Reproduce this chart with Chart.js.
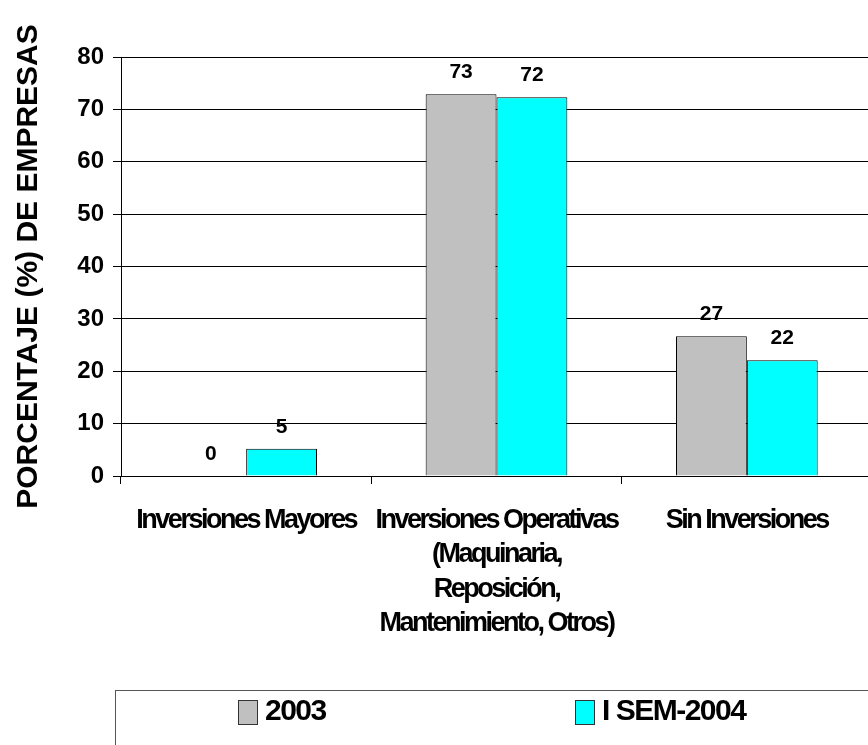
<!DOCTYPE html>
<html>
<head>
<meta charset="utf-8">
<script src="https://cdn.jsdelivr.net/npm/chart.js@4"></script>
<style>
  html, body { margin: 0; padding: 0; background: #fff; overflow: hidden; }
  #wrap { width: 880px; height: 745px; position: relative; }
</style>
</head>
<body>
<div id="wrap"><canvas id="chart"></canvas></div>
<script>
(function () {
    const categories = [
        ['Inversiones Mayores'],
        ['Inversiones Operativas', '(Maquinaria,', 'Reposición,', 'Mantenimiento, Otros)'],
        ['Sin Inversiones']
    ];
    const values2003 = [0, 72.9, 26.7];
    const valuesSem2004 = [5.2, 72.3, 22.1];
    const yTicks = [0, 10, 20, 30, 40, 50, 60, 70, 80];

    const font = "'Liberation Sans', Arial, sans-serif";
    const ctx = document.getElementById('chart').getContext('2d');

    // the original's category labels are set very tight
    const tightX = {
        id: 'tightX',
        afterUpdate(chart) {
            const s = chart.scales.x;
            if (s._tight) return;
            const orig = s.drawLabels.bind(s);
            s.drawLabels = function (area) {
                chart.ctx.save();
                chart.ctx.letterSpacing = '-2.5px';
                orig(area);
                chart.ctx.restore();
            };
            s._tight = true;
        }
    };

    // value labels above each bar
    const barLabels = {
        id: 'barLabels',
        afterDatasetsDraw(chart) {
            const c = chart.ctx;
            c.save();
            c.font = 'bold 21px ' + font;
            c.fillStyle = '#000';
            c.textAlign = 'center';
            c.textBaseline = 'middle';
            chart.data.datasets.forEach((ds, i) => {
                chart.getDatasetMeta(i).data.forEach((bar, j) => {
                    c.fillText(Math.round(ds.data[j]), bar.x, bar.y - 22);
                });
            });
            c.restore();
        }
    };

    // boxed legend like the original
    const boxLegend = {
        id: 'boxLegend',
        afterDraw(chart) {
            const c = chart.ctx;
            c.save();
            c.strokeStyle = '#555';
            c.lineWidth = 1;
            c.strokeRect(115.5, 690.5, 900, 200);
            const xs = [238, 575];
            c.font = 'bold 30px ' + font;
            c.letterSpacing = '-1.5px';
            c.textBaseline = 'middle';
            c.textAlign = 'left';
            chart.data.datasets.forEach((ds, i) => {
                c.fillStyle = ds.backgroundColor;
                c.fillRect(xs[i] + 0.5, 700.5, 19, 24);
                c.strokeStyle = '#333';
                c.strokeRect(xs[i] + 0.5, 700.5, 19, 24);
                c.fillStyle = '#000';
                c.fillText(ds.label, xs[i] + 27, 712);
            });
            c.restore();
        }
    };

    new Chart(ctx, {
        type: 'bar',
        data: {
            labels: categories,
            datasets: [{
                label: '2003',
                data: values2003,
                backgroundColor: '#C0C0C0',
                borderColor: '#000',
                borderWidth: 1
            }, {
                label: 'I SEM-2004',
                data: valuesSem2004,
                backgroundColor: '#00FFFF',
                borderColor: '#000',
                borderWidth: 1
            }]
        },
        options: {
            responsive: true,
            maintainAspectRatio: false,
            animation: false,
            layout: { padding: { top: 57, right: 8, left: 0, bottom: 0 } },
            datasets: { bar: { categoryPercentage: 0.566, barPercentage: 1 } },
            plugins: {
                legend: { display: false },
                tooltip: { enabled: false }
            },
            scales: {
                x: {
                    grid: { drawOnChartArea: false, offset: true, tickLength: 8, color: '#000' },
                    border: { color: '#000' },
                    ticks: {
                        color: '#000',
                        font: { family: font, size: 27, weight: 'bold', lineHeight: 1.26 },
                        maxRotation: 0,
                        autoSkip: false,
                        padding: 20
                    },
                    afterFit(scale) { scale.height = 269; }
                },
                y: {
                    min: 0,
                    max: 80,
                    afterBuildTicks(scale) { scale.ticks = yTicks.map(v => ({ value: v })); },
                    grid: { color: '#000', tickLength: 8 },
                    border: { color: '#000' },
                    ticks: {
                        color: '#000',
                        font: { family: font, size: 24, weight: 'bold' },
                        padding: 9
                    },
                    title: {
                        display: true,
                        text: 'PORCENTAJE (%) DE EMPRESAS',
                        color: '#000',
                        font: { family: font, size: 30, weight: 'bold', lineHeight: 1.2 },
                        padding: { top: 11, bottom: 0 }
                    },
                    afterFit(scale) { scale.width = 121; }
                }
            }
        },
        plugins: [tightX, barLabels, boxLegend]
    });
})();
</script>
</body>
</html>
